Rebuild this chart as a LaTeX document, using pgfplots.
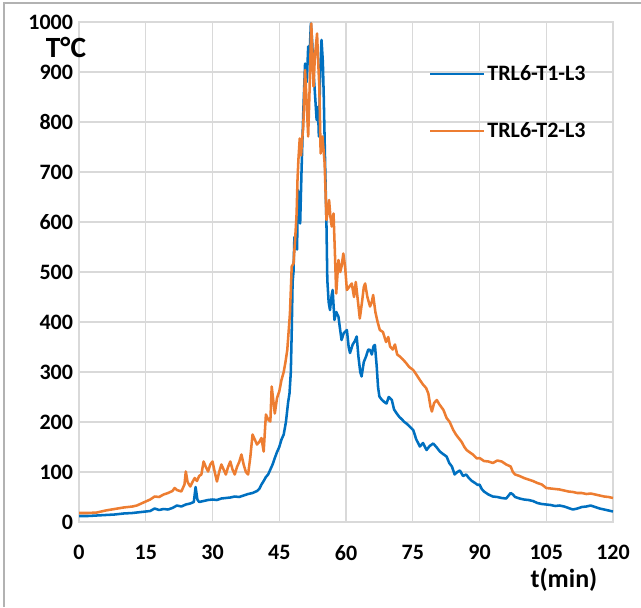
\documentclass[border=0pt]{standalone}
\usepackage{pgfplots}
\pgfplotsset{compat=1.18}
\usepackage{fontspec}
\setmainfont{Carlito}
\definecolor{cblue}{HTML}{0070C0}
\definecolor{corange}{HTML}{ED7D31}
\definecolor{cgrid}{HTML}{D9D9D9}
\begin{document}
\begin{tikzpicture}
\useasboundingbox (0pt,0pt) rectangle (480.75pt,455.25pt);
\draw[gray!60, line width=0.8pt] (3pt,0pt) -- (3pt,453pt) -- (480.75pt,453pt);
\begin{axis}[
  at={(59.25pt,63.75pt)}, anchor=south west,
  scale only axis, width=400.5pt, height=375pt,
  xmin=0, xmax=120, ymin=0, ymax=1000,
  xtick={0,15,...,120}, ytick={0,100,...,1000},
  grid=major, major grid style={cgrid, line width=1.1pt},
  axis line style={cgrid, line width=1.1pt},
  tick style={draw=none},
  font=\fontsize{16.5}{19}\selectfont\bfseries,
  /pgf/number format/assume math mode=true,
  /pgf/number format/set thousands separator={},
  xticklabel style={yshift=-14pt},
  yticklabel style={xshift=-1pt},
  legend style={at={(0.648,0.925)}, anchor=north west, draw=none, fill=none,
    font=\fontsize{16.5}{19}\selectfont\bfseries, row sep=26pt,
    /tikz/every even column/.append style={column sep=2pt}},
  legend cell align=left,
  legend image code/.code={\draw[#1, line width=1.6pt] (0pt,0pt) -- (40pt,0pt);},
  clip=true,
]
\addplot[cblue, line width=1.9pt, line join=round] coordinates {
(0,12)(2,12)(4,13)(6,14)(8,15)(10,17)(12,18)(14,20)(15,21)(16,22)(17,27)(18,24)(19,26)(20,25)(21,28)(22,33)(23,31)(24,35)(25,37)(25.8,40)(26.2,70)(26.6,45)(27,40)(28,42)(29,44)(30,45)(31,44)(32,47)(33,48)(34,49)(35,51)(36,50)(37,53)(38,56)(39,58)(40,62)(40.5,66)(41,75)(41.5,82)(42,90)(42.5,95)(43,105)(43.5,115)(44,128)(44.5,140)(45,150)(45.5,165)(46,175)(46.5,200)(47,240)(47.3,257)(47.6,300)(47.8,380)(48,480)(48.2,500)(48.4,570)(48.7,560)(49,545)(49.2,664)(49.5,620)(49.7,597)(50,700)(50.4,820)(50.8,917)(51.2,880)(51.5,951)(51.8,930)(52.1,997)(52.4,960)(52.7,900)(53,860)(53.4,804)(53.7,830)(53.9,771)(54.2,900)(54.5,964)(54.8,920)(55,851)(55.3,720)(55.6,600)(55.8,484)(56.1,440)(56.4,424)(56.8,455)(57,464)(57.4,404)(57.8,420)(58.3,411)(58.6,390)(59,364)(59.5,378)(60.2,384)(60.6,350)(60.9,338)(61.5,355)(62,362)(62.4,371)(62.8,330)(63.2,300)(63.5,291)(64,320)(64.5,331)(65,345)(65.4,344)(65.8,335)(66.2,352)(66.5,354)(66.9,311)(67.2,270)(67.5,251)(68,245)(68.6,240)(69.1,237)(69.6,250)(70.3,244)(70.8,225)(71.4,217)(72,210)(72.6,205)(73.1,200)(73.6,197)(74.4,190)(75.1,184)(75.8,165)(76.6,151)(77.3,158)(78.1,144)(78.8,152)(79.6,157)(80.3,150)(81.1,141)(81.8,136)(82.6,131)(83.2,118)(83.8,111)(84.4,95)(85,100)(85.6,103)(86.3,92)(87,95)(87.6,88)(88.3,82)(89,78)(89.6,74)(90,75)(90.5,66)(91,61)(92,55)(93,51)(94,50)(95,48)(96,47)(97,58)(97.5,55)(98,50)(99,47)(100,45)(101,44)(102,42)(103,38)(104,36)(105,35)(106,34)(107,32)(108,33)(109,31)(110,28)(111,25)(112,27)(113,30)(114,31)(115,33)(116,30)(117,27)(118,25)(119,23)(120,21)
};
\addlegendentry{TRL6-T1-L3}
\addplot[corange, line width=1.9pt, line join=round] coordinates {
(0,18)(2,18)(4,19)(5,21)(6,23)(8,26)(10,29)(12,31)(13,33)(14,37)(15,41)(16,45)(17,51)(18,50)(19,55)(20,58)(21,62)(21.5,68)(22,64)(23,61)(23.7,75)(24,101)(24.4,80)(25,71)(25.5,80)(26,88)(26.5,82)(27,92)(27.5,95)(28,121)(28.5,110)(29,101)(29.5,115)(30,121)(30.5,100)(31,81)(31.5,100)(32,115)(32.5,105)(33,95)(33.5,110)(34,121)(34.5,105)(35,95)(35.5,110)(36,120)(36.5,135)(37,115)(37.5,100)(38,95)(38.5,130)(39,175)(39.5,165)(40,155)(40.5,160)(41,168)(41.5,141)(42,215)(42.5,205)(43,201)(43.3,271)(43.7,240)(44,217)(44.5,248)(45,261)(45.5,284)(46,300)(46.4,320)(46.8,344)(47.1,380)(47.4,417)(47.8,511)(48.2,517)(48.6,570)(48.9,617)(49.1,684)(49.3,724)(49.6,767)(49.9,733)(50.1,760)(50.4,791)(50.8,904)(51.1,850)(51.5,771)(51.8,860)(52.2,997)(52.4,950)(52.7,871)(53,930)(53.5,977)(53.7,930)(54,871)(54.3,737)(54.7,771)(55,740)(55.2,717)(55.6,604)(55.9,620)(56.2,644)(56.5,610)(56.8,591)(57.2,617)(57.5,540)(57.8,457)(58.3,524)(58.7,500)(59,511)(59.4,537)(59.8,510)(60.2,464)(60.7,470)(61.3,477)(61.8,450)(62.2,480)(62.7,440)(63.1,407)(63.6,440)(64,470)(64.3,477)(64.8,450)(65.4,431)(65.8,440)(66.1,454)(66.6,420)(67.1,400)(67.6,384)(68.3,380)(69,360)(69.5,370)(69.9,351)(70.5,345)(71,355)(71.5,335)(72.1,331)(72.8,325)(73.5,318)(74.2,310)(75.1,304)(75.8,295)(76.6,284)(77.3,275)(78,268)(78.5,257)(79,230)(79.3,221)(79.8,238)(80.4,244)(81,235)(81.9,224)(82.6,208)(83.3,200)(84.1,184)(84.7,175)(85.3,168)(86,160)(86.6,150)(87.1,144)(87.7,140)(88.5,135)(89.4,127)(90,128)(91,122)(92,121)(93,118)(94,123)(95,121)(96,115)(97,111)(97.5,100)(98,95)(99,92)(100,88)(101,85)(102,82)(103,78)(104,75)(105,68)(106,67)(107,66)(108,65)(109,63)(110,61)(111,60)(112,58)(113,58)(114,56)(115,57)(116,55)(117,53)(118,51)(119,50)(120,48)
};
\addlegendentry{TRL6-T2-L3}
\end{axis}
\node[font=\fontsize{22}{24}\selectfont\bfseries] at (49.5pt,420pt) {T°C};
\node[font=\fontsize{19.5}{22}\selectfont\bfseries, anchor=east] at (451.5pt,20.25pt) {t(min)};
\end{tikzpicture}
\end{document}
